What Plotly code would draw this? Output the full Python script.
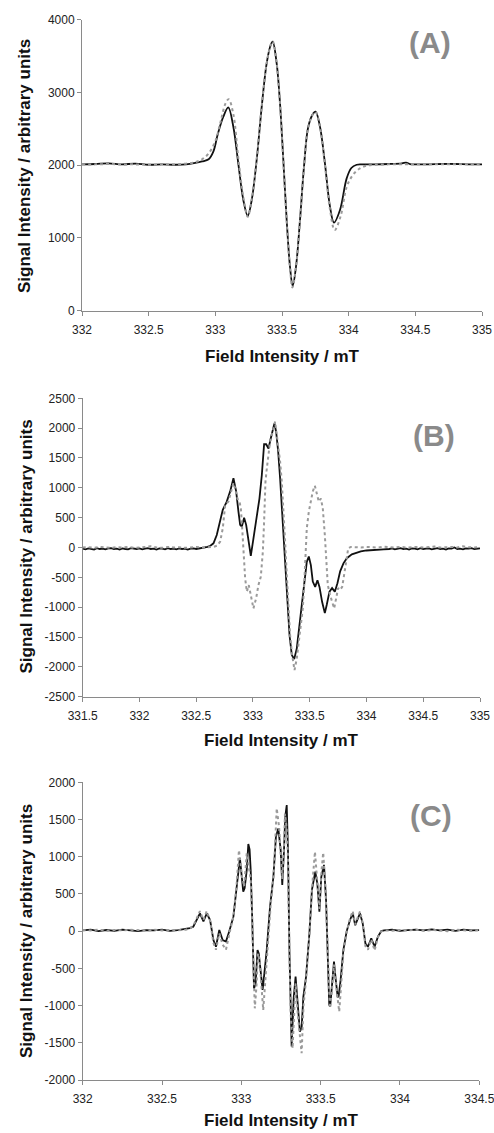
import plotly.graph_objects as go

# ---------------- Panel (A) ----------------
a_black_x = [332.00, 332.10, 332.20, 332.30, 332.40, 332.50, 332.60, 332.70, 332.78, 332.85,
             332.90, 332.95, 332.985, 333.02, 333.06, 333.097, 333.135, 333.172, 333.21, 333.243,
             333.273, 333.31, 333.348, 333.385, 333.415, 333.43, 333.46, 333.485, 333.51, 333.535,
             333.56, 333.58, 333.605, 333.635, 333.665, 333.697, 333.735, 333.752, 333.785, 333.822,
             333.86, 333.89, 333.935, 333.985, 334.02, 334.06, 334.10, 334.20, 334.30, 334.40,
             334.43, 334.46, 334.50, 334.60, 334.70, 334.80, 334.90, 335.00]
a_black_y = [2010, 2015, 2025, 2010, 2020, 2005, 2010, 2005, 2010, 2030,
             2050, 2080, 2184, 2437, 2665, 2794, 2527, 2025, 1521, 1301,
             1521, 2070, 2802, 3398, 3650, 3695, 3398, 2849, 2070, 1246,
             604, 340, 604, 1246, 1978, 2527, 2711, 2734, 2527, 2025,
             1429, 1209, 1383, 1818, 1960, 2005, 2010, 2010, 2015, 2025,
             2035, 2015, 2010, 2010, 2015, 2015, 2010, 2010]

a_gray_x = [332.00, 332.10, 332.20, 332.30, 332.40, 332.50, 332.60, 332.70, 332.78, 332.85,
            332.90, 332.95, 333.00, 333.04, 333.075, 333.10, 333.135, 333.172, 333.21, 333.243,
            333.273, 333.31, 333.348, 333.385, 333.415, 333.43, 333.46, 333.485, 333.51, 333.535,
            333.56, 333.578, 333.605, 333.635, 333.665, 333.697, 333.735, 333.752, 333.785, 333.822,
            333.86, 333.895, 333.94, 333.985, 334.03, 334.08, 334.13, 334.20, 334.30, 334.40,
            334.50, 334.60, 334.70, 334.80, 334.90, 335.00]
a_gray_y = [2010, 2010, 2015, 2010, 2010, 2005, 2010, 2010, 2020, 2040,
            2080, 2160, 2330, 2600, 2840, 2905, 2700, 2100, 1560, 1290,
            1530, 2080, 2810, 3400, 3650, 3700, 3400, 2850, 2060, 1240,
            590, 320, 600, 1240, 1970, 2520, 2710, 2730, 2520, 2000,
            1390, 1108, 1300, 1700, 1860, 1950, 1990, 2005, 2010, 2010,
            2010, 2010, 2010, 2010, 2010, 2010]

# ---------------- Panel (B) ----------------
b_black_x = [331.50, 331.525, 331.55, 331.575, 331.60, 331.625, 331.65, 331.675, 331.70, 331.725,
             331.75, 331.775, 331.80, 331.825, 331.85, 331.875, 331.90, 331.925, 331.95, 331.975,
             332.00, 332.025, 332.05, 332.075, 332.10, 332.125, 332.15, 332.175, 332.20, 332.225,
             332.25, 332.275, 332.30, 332.325, 332.35, 332.375, 332.40, 332.425, 332.45, 332.475,
             332.50, 332.534, 332.57, 332.60, 332.625,
             332.652, 332.681, 332.711, 332.734, 332.769, 332.799, 332.828, 332.852, 332.872, 332.887,
             332.902, 332.922, 332.940, 332.960, 332.981, 333.004, 333.028, 333.057, 333.078, 333.098,
             333.116, 333.137, 333.157, 333.175, 333.189, 333.204, 333.222, 333.239, 333.257, 333.275,
             333.292, 333.307, 333.322, 333.342, 333.363, 333.386, 333.410, 333.433, 333.457, 333.474,
             333.492, 333.510, 333.527, 333.548, 333.568, 333.586, 333.609, 333.633, 333.650, 333.674,
             333.697, 333.721, 333.744, 333.768, 333.797, 333.827, 333.871, 333.915, 333.95, 334.00,
             334.05, 334.10, 334.15, 334.20, 334.225, 334.25, 334.275, 334.30, 334.325, 334.35,
             334.375, 334.40, 334.425, 334.45, 334.475, 334.50, 334.525, 334.55, 334.575, 334.60,
             334.625, 334.65, 334.675, 334.70, 334.725, 334.75, 334.775, 334.80, 334.825, 334.85,
             334.875, 334.90, 334.925, 334.95, 334.975, 335.00]
b_black_y = [-20, -30, -15, -25, -35, -10, -25, -20, -30, -15,
             -10, -25, -20, -35, -15, -25, -30, -10, -20, -25,
             -15, -30, -20, -10, -25, -20, -35, -15, -20, -30,
             -10, -25, -20, -30, -15, -25, -20, -35, -20, -15,
             -25, -15, -10, 10, 30,
             70, 210, 430, 630, 770, 940, 1160, 940, 600, 380,
             350, 500, 380, 100, -140, 150, 490, 820, 1215, 1730,
             1730, 1660, 1830, 2000, 2080, 1940, 1610, 1160, 600, -70,
             -570, -1075, -1470, -1800, -1870, -1690, -1300, -910, -460, -240,
             -150, -295, -570, -660, -550, -660, -910, -1100, -960, -740,
             -680, -740, -600, -400, -265, -180, -115, -80, -65, -50,
             -40, -35, -30, -25, -15, -30, -20, -10, -25, -20,
             -35, -15, -20, -30, -10, -25, -20, -15, -30, -20,
             -10, -25, -20, -35, -15, -20, 0, -25, -20, -30,
             -15, -20, -10, -25, -20, -15]

b_gray_x = [331.50, 331.55, 331.60, 331.65, 331.70, 331.75, 331.80, 331.85, 331.90, 331.95,
            332.00, 332.05, 332.10, 332.15, 332.20, 332.25, 332.30, 332.35, 332.40, 332.45,
            332.50, 332.55, 332.60, 332.65, 332.685,
            332.711, 332.734, 332.755, 332.784, 332.805, 332.828, 332.843, 332.863, 332.881, 332.893,
            332.905, 332.916, 332.931, 332.946, 332.963, 332.981, 333.004, 333.028, 333.048, 333.069,
            333.087, 333.098, 333.110, 333.122, 333.137, 333.151, 333.166, 333.181, 333.195, 333.210,
            333.228, 333.239, 333.254, 333.269, 333.283, 333.298, 333.313, 333.327, 333.345, 333.366,
            333.386, 333.404, 333.421, 333.439, 333.451, 333.463, 333.474, 333.492, 333.510, 333.527,
            333.545, 333.562, 333.580, 333.598, 333.615, 333.633, 333.645, 333.659, 333.680, 333.697,
            333.715, 333.733, 333.750, 333.768, 333.786, 333.803, 333.821, 333.839, 333.862, 333.90,
            333.95, 334.00, 334.05, 334.10, 334.15, 334.20, 334.25, 334.30, 334.35, 334.40,
            334.45, 334.50, 334.55, 334.60, 334.65, 334.70, 334.75, 334.80, 334.85, 334.90,
            334.95, 335.00]
b_gray_y = [0, 5, -5, 10, 0, -5, 5, 0, 10, -5,
            0, 5, 20, 0, -5, 10, 0, 5, -5, 0,
            10, 0, 5, 10, 30,
            100, 320, 710, 770, 940, 1080, 990, 820, 770, 660,
            320, -125, -515, -740, -630, -800, -1020, -850, -630, -490,
            -70, 430, 1100, 1325, 1550, 1775, 1885, 2025, 2110, 1885,
            1605, 1440, 1100, 660, 100, -460, -1020, -1465, -1800, -2055,
            -1860, -1580, -1300, -1020, -630, -125, 320, 600, 770, 940,
            1035, 880, 770, 820, 660, 210, -240, -630, -800, -910,
            -1020, -850, -680, -710, -660, -460, -240, -15, 10, 5,
            0, 10, 5, 0, 15, 5, 0, 10, 0, 5,
            10, 0, 5, 15, 0, 5, 10, 0, 20, 5,
            0, 10]

# ---------------- Panel (C) ----------------
c_black_x = [332.00, 332.05, 332.10, 332.15, 332.20, 332.25, 332.30, 332.35, 332.40, 332.45,
             332.50, 332.55, 332.60, 332.65, 332.675, 332.697, 332.718, 332.739, 332.761, 332.782,
             332.803, 332.824, 332.840, 332.861, 332.882, 332.903, 332.924, 332.950, 332.971, 332.991,
             333.012, 333.021, 333.034, 333.044, 333.052, 333.059, 333.067, 333.076, 333.080, 333.090,
             333.102, 333.110, 333.120, 333.134, 333.143, 333.160, 333.181, 333.202, 333.218, 333.233,
             333.248, 333.258, 333.269, 333.277, 333.286, 333.294, 333.303, 333.311, 333.317, 333.322,
             333.330, 333.342, 333.353, 333.369, 333.380, 333.391, 333.408, 333.429, 333.445, 333.466,
             333.479, 333.492, 333.504, 333.521, 333.534, 333.546, 333.554, 333.560, 333.571, 333.584,
             333.595, 333.607, 333.613, 333.626, 333.643, 333.664, 333.685, 333.702, 333.718, 333.731,
             333.748, 333.765, 333.782, 333.798, 333.819, 333.840, 333.861, 333.882, 333.90, 333.95,
             334.00, 334.05, 334.10, 334.15, 334.20, 334.25, 334.30, 334.35, 334.40, 334.45,
             334.50]
c_black_y = [10, 20, 0, 15, 5, 20, 10, 0, 15, 10,
             20, 5, 15, 30, 40, 60, 150, 240, 130, 240,
             150, -120, -210, 15, -120, -140, 0, 195, 600, 980,
             530, 580, 820, 1170, 1100, 820, 285, -255, -770, -700,
             -253, -300, -500, -790, -610, -255, 330, 730, 1270, 1380,
             1090, 620, 1090, 1540, 1695, 1090, -255, -1150, -1550, -1300,
             -900, -611, -970, -1350, -1300, -880, -610, -30, 555, 800,
             640, 260, 730, 890, 420, -340, -990, -1015, -700, -410,
             -650, -880, -880, -655, -255, 0, 150, 240, 80, 150,
             240, 105, -165, -210, -95, -210, -75, 0, 10, 20,
             5, 15, 20, 10, 25, 10, 20, 5, 20, 10,
             15]

c_gray_x = [332.00, 332.05, 332.10, 332.15, 332.20, 332.25, 332.30, 332.35, 332.40, 332.45,
            332.50, 332.55, 332.60, 332.65, 332.675, 332.697, 332.718, 332.739, 332.761, 332.782,
            332.803, 332.824, 332.840, 332.861, 332.882, 332.903, 332.924, 332.950, 332.970, 332.985,
            333.005, 333.018, 333.034, 333.046, 333.059, 333.067, 333.076, 333.085, 333.095, 333.105,
            333.115, 333.125, 333.138, 333.150, 333.165, 333.185, 333.205, 333.223, 333.238, 333.248,
            333.258, 333.268, 333.275, 333.285, 333.294, 333.303, 333.311, 333.323, 333.333, 333.342,
            333.355, 333.370, 333.380, 333.392, 333.408, 333.429, 333.445, 333.464, 333.479, 333.492,
            333.505, 333.516, 333.530, 333.546, 333.558, 333.571, 333.584, 333.598, 333.617, 333.630,
            333.643, 333.664, 333.685, 333.702, 333.718, 333.731, 333.748, 333.765, 333.782, 333.798,
            333.819, 333.840, 333.861, 333.882, 333.90, 333.95, 334.00, 334.05, 334.10, 334.15,
            334.20, 334.25, 334.30, 334.35, 334.40, 334.45, 334.50]
c_gray_y = [15, 10, 20, 5, 15, 10, 20, 10, 5, 20,
            10, 15, 10, 20, 35, 70, 170, 270, 150, 270,
            140, -160, -250, -30, -180, -250, -40, 200, 620, 1090,
            720, 600, 1045, 900, 700, 250, -300, -1037, -750, -300,
            -400, -700, -1060, -700, -200, 350, 800, 1650, 1400, 1000,
            700, 1100, 1580, 1400, 1000, -300, -1100, -1575, -1000, -700,
            -1100, -1450, -1640, -1000, -650, -40, 560, 1068, 700, 300,
            800, 1055, 600, -300, -1036, -800, -450, -750, -1081, -700,
            -280, -10, 170, 270, 90, 170, 265, 110, -200, -250,
            -110, -260, -80, -5, 10, 5, 15, 10, 20, 5,
            15, 10, 0, 20, 10, 5, 15]

# ---------------- Axis ticks ----------------
a_xticks = [332, 332.5, 333, 333.5, 334, 334.5, 335]
a_xtext = ["332", "332.5", "333", "333.5", "334", "334.5", "335"]
a_yticks = [0, 1000, 2000, 3000, 4000]
a_ytext = ["0", "1000", "2000", "3000", "4000"]

b_xticks = [331.5, 332, 332.5, 333, 333.5, 334, 334.5, 335]
b_xtext = ["331.5", "332", "332.5", "333", "333.5", "334", "334.5", "335"]
b_yticks = [-2500, -2000, -1500, -1000, -500, 0, 500, 1000, 1500, 2000, 2500]
b_ytext = ["-2500", "-2000", "-1500", "-1000", "-500", "0", "500", "1000", "1500", "2000", "2500"]

c_xticks = [332, 332.5, 333, 333.5, 334, 334.5]
c_xtext = ["332", "332.5", "333", "333.5", "334", "334.5"]
c_yticks = [-2000, -1500, -1000, -500, 0, 500, 1000, 1500, 2000]
c_ytext = ["-2000", "-1500", "-1000", "-500", "0", "500", "1000", "1500", "2000"]

panel_labels = ["(A)", "(B)", "(C)"]
x_title = "Field Intensity / mT"
y_title = "Signal Intensity / arbitrary units"

W, H = 494, 1133
FONT = "Liberation Sans, Arial, sans-serif"
BLACK = "#111111"
GRAY = "#9a9a9a"
AXIS = "#8a8a8a"

fig = go.Figure()

series = [
    (a_black_x, a_black_y, a_gray_x, a_gray_y, "x", "y", "spline"),
    (b_black_x, b_black_y, b_gray_x, b_gray_y, "x2", "y2", "linear"),
    (c_black_x, c_black_y, c_gray_x, c_gray_y, "x3", "y3", "linear"),
]
for bx, by, gx, gy, xa, ya, shape in series:
    fig.add_trace(go.Scatter(x=bx, y=by, xaxis=xa, yaxis=ya, mode="lines",
                             line=dict(color=BLACK, width=1.8, shape=shape),
                             showlegend=False, hoverinfo="skip"))
    fig.add_trace(go.Scatter(x=gx, y=gy, xaxis=xa, yaxis=ya, mode="lines",
                             line=dict(color=GRAY, width=2.0, dash="dot", shape=shape),
                             showlegend=False, hoverinfo="skip"))

# plot-area boxes in page pixels: (left, right, top, bottom)
boxes = [(82.0, 482.0, 19.5, 310.7),
         (82.7, 480.0, 398.3, 696.7),
         (82.7, 479.3, 782.3, 1080.0)]
xranges = [[332, 335], [331.5, 335], [332, 334.5]]
yranges = [[0, 4000], [-2500, 2500], [-2000, 2000]]
xt = [(a_xticks, a_xtext), (b_xticks, b_xtext), (c_xticks, c_xtext)]
yt = [(a_yticks, a_ytext), (b_yticks, b_ytext), (c_yticks, c_ytext)]

common = dict(showline=True, linecolor=AXIS, linewidth=1, ticks="outside", ticklen=4,
              tickcolor=AXIS, tickwidth=1, showgrid=False, zeroline=False, automargin=False,
              tickfont=dict(family=FONT, size=12, color="#222222"), fixedrange=True)

layout = dict(width=W, height=H, margin=dict(l=0, r=0, t=0, b=0, pad=0, autoexpand=False),
              paper_bgcolor="white", plot_bgcolor="white", showlegend=False)

for i, (l, r, t, b) in enumerate(boxes):
    sfx = "" if i == 0 else str(i + 1)
    layout["xaxis" + sfx] = dict(domain=[l / W, r / W], range=xranges[i],
                                 anchor="y" + sfx, tickvals=xt[i][0], ticktext=xt[i][1],
                                 ticklabelstandoff=4, ticklabeloverflow="allow", **common)
    layout["yaxis" + sfx] = dict(domain=[1 - b / H, 1 - t / H], range=yranges[i],
                                 anchor="x" + sfx, tickvals=yt[i][0], ticktext=yt[i][1],
                                 ticklabeloverflow="allow", **common)

fig.update_layout(**layout)

# axis titles and panel letters
x_title_pos = [(282, 357), (281.5, 740), (281, 1120)]
y_title_pos = [(24, 166), (26.5, 547), (26, 931)]
label_pos = [(429.5, 42.5), (434, 435), (430.5, 815.5)]

for i in range(3):
    fig.add_annotation(x=x_title_pos[i][0] / W, y=1 - x_title_pos[i][1] / H, xref="paper", yref="paper",
                       text="<b>%s</b>" % x_title, showarrow=False, xanchor="center", yanchor="middle",
                       font=dict(family=FONT, size=17, color="#111111"))
    fig.add_annotation(x=y_title_pos[i][0] / W, y=1 - y_title_pos[i][1] / H, xref="paper", yref="paper",
                       text="<b>%s</b>" % y_title, showarrow=False, textangle=-90,
                       xanchor="center", yanchor="middle",
                       font=dict(family=FONT, size=17, color="#111111"))
    fig.add_annotation(x=label_pos[i][0] / W, y=1 - label_pos[i][1] / H, xref="paper", yref="paper",
                       text="<b>%s</b>" % panel_labels[i], showarrow=False,
                       xanchor="center", yanchor="middle",
                       font=dict(family=FONT, size=30, color="#8a8a8a"))

fig.write_html("out.html")
